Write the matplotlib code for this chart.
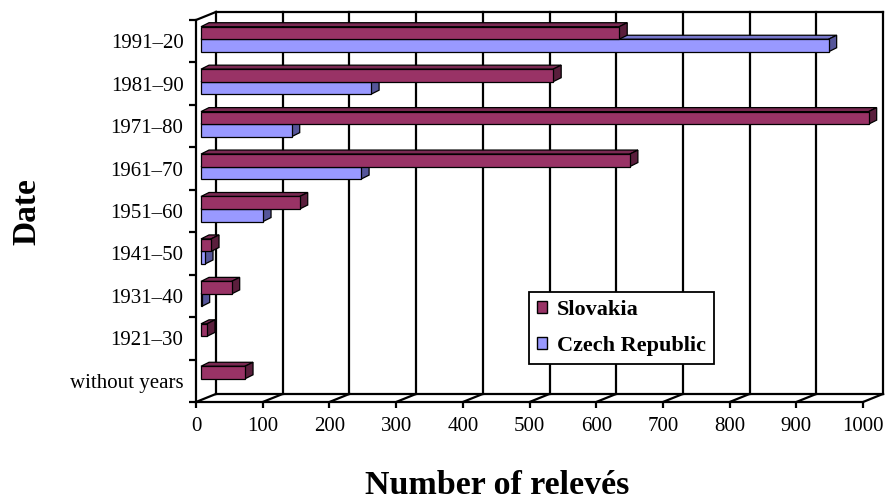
import numpy as np
import matplotlib.pyplot as plt
from matplotlib.patches import Polygon, Patch

plt.rcParams['font.family'] = ['Liberation Serif', 'DejaVu Serif']

categories = ['without years', '1921–30', '1931–40', '1941–50', '1951–60',
              '1961–70', '1971–80', '1981–90', '1991–20']
slovakia = [66, 9, 46, 15, 148, 643, 1001, 528, 627]
czech = [0, 0, 1, 6, 93, 240, 136, 255, 941]
x_ticks = list(range(0, 1001, 100))

sk_colors = ('#993366', '#7a2952', '#5a1e3c')   # front, top, side
cz_colors = ('#9999ff', '#7777cc', '#555599')

# pseudo 3D offsets in data units (x: 1.5 per px, y: 1/42.44 per px)
WALL_DX, WALL_DY = 30, 0.19
BAR_X0, BAR_Y0 = 7.5, 0.047
BAR_DX, BAR_DY = 12, 0.094
BAR_H = 0.295


def draw_bars(ax, values, y_start, colors, z):
    front, top, side = colors
    bars = ax.barh(y_start, values, height=BAR_H, left=BAR_X0, align='edge',
                   color=front, edgecolor='black', linewidth=0.9, zorder=z + 2, clip_on=False)
    for rect, v in zip(bars, values):
        if v <= 0:
            rect.set_visible(False)
            continue
        x0 = rect.get_x()
        x1 = x0 + rect.get_width()
        yb = rect.get_y()
        yt = yb + rect.get_height()
        ax.add_patch(Polygon([(x0, yt), (x1, yt), (x1 + BAR_DX, yt + BAR_DY), (x0 + BAR_DX, yt + BAR_DY)],
                             closed=True, facecolor=top, edgecolor='black', linewidth=0.9, zorder=z, clip_on=False))
        ax.add_patch(Polygon([(x1, yb), (x1 + BAR_DX, yb + BAR_DY), (x1 + BAR_DX, yt + BAR_DY), (x1, yt)],
                             closed=True, facecolor=side, edgecolor='black', linewidth=0.9, zorder=z + 1, clip_on=False))


fig = plt.figure(figsize=(8.87, 5), dpi=100)
ax = fig.add_axes([196 / 887, 1 - 402 / 500, 667 / 887, 382 / 500])
ax.set_xlim(0, 1000)
ax.set_ylim(-0.5, 8.5)
ax.patch.set_visible(False)

ymin, ymax = -0.5, 8.5
lw = 1.6
# back wall gridlines and floor
for t in x_ticks:
    ax.plot([t + WALL_DX, t + WALL_DX], [ymin + WALL_DY, ymax + WALL_DY], color='black', lw=lw, zorder=1, clip_on=False)
    ax.plot([t, t + WALL_DX], [ymin, ymin + WALL_DY], color='black', lw=lw, zorder=1, clip_on=False)
ax.plot([WALL_DX, 1000 + WALL_DX], [ymax + WALL_DY] * 2, color='black', lw=lw, zorder=1, clip_on=False)
ax.plot([WALL_DX, 1000 + WALL_DX], [ymin + WALL_DY] * 2, color='black', lw=lw, zorder=1, clip_on=False)
ax.plot([0, WALL_DX], [ymax, ymax + WALL_DY], color='black', lw=lw, zorder=1, clip_on=False)

y = np.arange(len(categories))
draw_bars(ax, czech, y - BAR_H + BAR_Y0, cz_colors, 3)
draw_bars(ax, slovakia, y + BAR_Y0, sk_colors, 6)

for s in ['top', 'right']:
    ax.spines[s].set_visible(False)
for s in ['left', 'bottom']:
    ax.spines[s].set_linewidth(lw)
    ax.spines[s].set_zorder(1)

ax.set_xticks(x_ticks)
ax.set_xticklabels([str(t) for t in x_ticks], fontsize=15)
ax.tick_params(axis='x', direction='out', length=4, width=lw, pad=7)
ax.set_yticks(np.arange(-0.5, 9, 1))
ax.set_yticklabels([])
ax.set_yticks(y, minor=True)
ax.set_yticklabels(categories, minor=True, fontsize=15)
ax.tick_params(axis='y', which='major', direction='out', length=5, width=lw)
ax.tick_params(axis='y', which='minor', length=0, pad=9)

fig.text(27 / 887, 1 - 212 / 500, 'Date', rotation=90, ha='center', va='center',
         fontsize=24, fontweight='bold')
fig.text(497 / 887, 1 - 485 / 500, 'Number of relevés', ha='center', va='center',
         fontsize=24.5, fontweight='bold')

handles = [Patch(facecolor=sk_colors[0], edgecolor='black', linewidth=1),
           Patch(facecolor=cz_colors[0], edgecolor='black', linewidth=1)]
leg = ax.legend(handles, ['Slovakia', 'Czech Republic'], loc='upper left',
                bbox_to_anchor=(529 / 887, 1 - 292 / 500), bbox_transform=fig.transFigure,
                frameon=True, fancybox=False, edgecolor='black', framealpha=1,
                prop=dict(family='Liberation Serif', weight='bold', size=16),
                handlelength=0.45, handleheight=0.45, handletextpad=0.45,
                labelspacing=0.72, borderpad=0.35, borderaxespad=0)
leg.get_frame().set_linewidth(1.3)
leg.set_zorder(20)

fig.savefig('out.png', dpi=100)
